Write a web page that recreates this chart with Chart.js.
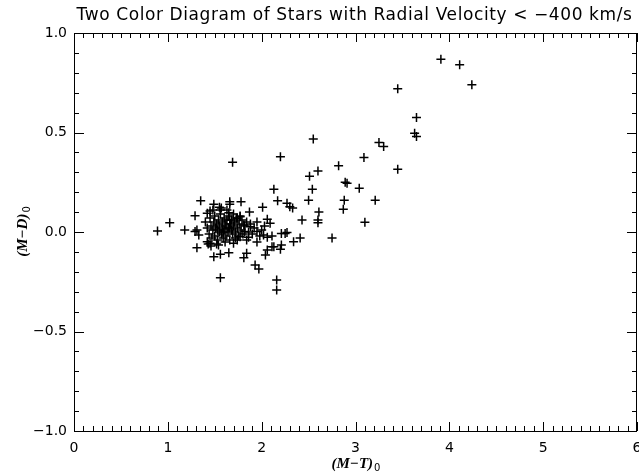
<!DOCTYPE html>
<html><head><meta charset="utf-8">
<script src="https://cdn.jsdelivr.net/npm/chart.js@4/dist/chart.umd.min.js"></script>
<style>html,body{margin:0;padding:0;background:#fff;}#wrap{width:639px;height:475px;}</style>
</head><body><div id="wrap"><canvas id="c" width="639" height="475"></canvas></div>
<script>
const titleText = 'Two Color Diagram of Stars with Radial Velocity < \u2212400 km/s';
const xTitleMain = '(M\u2212T)';
const yTitleMain = '(M\u2212D)';
const titleSub = '0';
const xTickValues = [0, 1, 2, 3, 4, 5, 6];
const yTickValues = [-1.0, -0.5, 0.0, 0.5, 1.0];

// (M-T)0 values
const mtValues = [
 3.91,4.11,4.24,3.45,3.65,3.63,3.65,2.55,3.25,3.30,3.09,2.82,3.45,2.60,2.51,2.91,2.89,3.04,2.54,2.88,3.21,2.50,2.27,2.30,2.33,2.87,2.61,2.60,2.60,2.43,3.10,2.20,2.25,2.41,2.75,
 1.69,2.13,2.17,1.35,1.49,1.66,1.66,1.78,2.01,1.87,1.55,1.56,1.29,1.42,1.45,1.65,1.02,0.89,1.18,2.06,2.09,1.31,1.29,1.33,1.31,1.49,1.56,1.65,1.81,1.84,2.04,2.06,2.11,1.93,1.97,1.56,2.16,2.16,1.42,1.45,1.54,2.20,2.13,2.21,2.34,2.21,2.27,2.02,2.06,2.11,1.95,1.86,1.82,1.74,1.70,1.77,1.88,1.81,1.77,1.74,1.66,
 1.40,1.42,1.44,1.45,1.46,1.47,1.48,1.49,1.50,1.50,1.51,1.52,1.53,1.54,1.55,1.55,1.56,1.57,1.58,1.58,1.59,1.60,1.60,1.61,1.62,1.62,1.63,1.64,1.65,1.65,1.66,1.67,1.68,1.68,1.69,1.70,1.71,1.72,1.73,1.74,1.75,1.76,1.78,1.79,1.80,1.82,1.84,1.86,1.88,1.90,1.92,1.95,1.98,2.00,1.43,1.46,1.52,1.57,1.48,1.63,1.70,1.53,1.66,1.59,1.72,1.77,1.61,1.84,1.95,2.03
];
// (M-D)0 values
const mdValues = [
 0.868,0.84,0.74,0.72,0.576,0.496,0.48,0.467,0.45,0.43,0.375,0.333,0.315,0.307,0.28,0.245,0.25,0.22,0.215,0.16,0.16,0.16,0.144,0.127,0.12,0.114,0.10,0.06,0.047,0.06,0.049,0.378,-0.007,-0.03,-0.03,
 0.35,0.215,0.157,0.157,0.14,0.152,0.14,0.152,0.124,0.10,0.124,0.11,0.082,0.094,0.105,0.097,0.047,0.005,0.01,0.064,0.044,0.01,0.002,-0.015,-0.079,-0.124,-0.112,-0.104,-0.129,-0.107,-0.116,-0.09,-0.074,-0.166,-0.186,-0.23,-0.241,-0.291,-0.049,-0.057,-0.065,-0.087,-0.074,-0.065,-0.049,-0.007,-0.003,-0.015,-0.027,-0.02,0.002,-0.027,0.002,-0.04,-0.057,-0.024,0.027,0.035,0.077,0.069,0.06,
 0.05,0.02,-0.01,0.07,0.03,-0.03,0.01,0.05,0.08,-0.02,0.02,0.04,-0.04,0.06,0.00,0.03,0.09,-0.01,0.05,0.02,-0.03,0.07,0.01,0.04,-0.02,0.03,0.06,0.00,0.02,0.08,-0.04,0.04,0.01,0.06,-0.01,0.03,0.05,0.00,0.07,0.02,-0.02,0.04,0.01,0.06,-0.01,0.03,0.05,0.00,0.04,-0.01,0.02,0.05,-0.02,0.01,-0.06,-0.07,-0.06,0.12,0.11,0.11,0.09,0.01,0.02,0.00,-0.03,0.08,-0.05,-0.04,-0.05,0.03
];

const points = mtValues.map((x, i) => ({x: x, y: mdValues[i]}));

const framePlugin = {
  id: 'frame',
  afterDraw(chart) {
    const ctx = chart.ctx, a = chart.chartArea;
    const xs = chart.scales.x, ys = chart.scales.y;
    ctx.save();
    ctx.strokeStyle = '#000';
    ctx.lineWidth = 1;
    ctx.strokeRect(Math.round(a.left) + 0.5, Math.round(a.top) + 0.5, Math.round(a.right - a.left) - 1, Math.round(a.bottom - a.top));
    ctx.beginPath();
    for (let i = 0; i <= 60; i++) {
      const v = i / 10;
      const p = Math.round(xs.getPixelForValue(v)) + 0.5;
      const len = (i % 10 === 0) ? 9 : 5;
      ctx.moveTo(p, a.bottom); ctx.lineTo(p, a.bottom - len);
      ctx.moveTo(p, a.top); ctx.lineTo(p, a.top + len);
    }
    for (let i = -10; i <= 10; i++) {
      const v = i / 10;
      const p = Math.round(ys.getPixelForValue(v)) + 0.5;
      const len = (i % 5 === 0) ? 10 : 5;
      ctx.moveTo(a.left, p); ctx.lineTo(a.left + len, p);
      ctx.moveTo(a.right, p); ctx.lineTo(a.right - len, p);
    }
    ctx.stroke();
    ctx.fillStyle = '#000';
    // chart title
    ctx.font = '17px "DejaVu Sans"';
    ctx.textAlign = 'center';
    ctx.textBaseline = 'alphabetic';
    try { ctx.letterSpacing = '0.6px'; } catch (e) {}
    ctx.fillText(titleText, (a.left + a.right) / 2 - 1, 20);
    try { ctx.letterSpacing = '0px'; } catch (e) {}
    // axis titles with subscript
    const main = 'italic bold 15px "Liberation Serif"';
    const sub = '10px "DejaVu Sans"';
    function drawTitle(text, cx, cy) {
      ctx.font = main; const w1 = ctx.measureText(text).width;
      ctx.font = sub; const w2 = ctx.measureText(titleSub).width;
      const x0 = cx - (w1 + w2) / 2;
      ctx.font = main; ctx.textAlign = 'left';
      ctx.fillText(text, x0, cy);
      ctx.font = sub;
      ctx.fillText(titleSub, x0 + w1 + 1, cy + 3);
    }
    drawTitle(xTitleMain, (a.left + a.right) / 2, 468);
    ctx.save();
    ctx.translate(27, (a.top + a.bottom) / 2);
    ctx.rotate(-Math.PI / 2);
    drawTitle(yTitleMain, 0, 0);
    ctx.restore();
    ctx.restore();
  }
};

const minus = (v) => (v < 0 ? '\u2212' : '') + Math.abs(v);

new Chart(document.getElementById('c'), {
  type: 'scatter',
  data: {
    datasets: [{
      data: points,
      pointStyle: 'cross',
      pointRadius: 4.5,
      pointHoverRadius: 4.5,
      borderColor: '#000',
      backgroundColor: '#000',
      pointBorderWidth: 1.5,
      borderWidth: 1.5
    }]
  },
  options: {
    responsive: false,
    devicePixelRatio: 1,
    animation: false,
    events: [],
    layout: { autoPadding: false, padding: { left: 0, right: 2, top: 33, bottom: 0 } },
    plugins: {
      legend: { display: false },
      tooltip: { enabled: false },
      title: { display: false }
    },
    scales: {
      x: {
        type: 'linear', min: 0, max: 6,
        afterBuildTicks: (s) => { s.ticks = xTickValues.map(v => ({value: v})); },
        afterFit: (s) => { s.height = 44; s.paddingLeft = 0; s.paddingRight = 0; },
        grid: { display: false, drawTicks: false },
        border: { display: false },
        ticks: { color: '#000', padding: 9, font: { family: 'DejaVu Sans', size: 14 }, callback: (v) => minus(v), maxRotation: 0 }
      },
      y: {
        type: 'linear', min: -1, max: 1,
        afterBuildTicks: (s) => { s.ticks = yTickValues.map(v => ({value: v})); },
        afterFit: (s) => { s.width = 74; s.paddingTop = 0; s.paddingBottom = 0; },
        grid: { display: false, drawTicks: false },
        border: { display: false },
        ticks: { color: '#000', padding: 7, font: { family: 'DejaVu Sans', size: 14 }, callback: (v) => (v < 0 ? '\u2212' : '') + Math.abs(v).toFixed(1) }
      }
    }
  },
  plugins: [framePlugin]
});
</script>
</body></html>
